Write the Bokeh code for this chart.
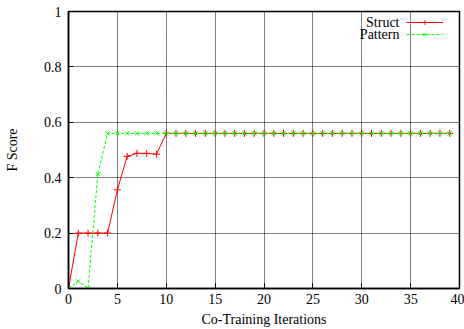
from bokeh.plotting import figure
from bokeh.models import Legend, LegendItem, Label, FixedTicker, Range1d
from bokeh.core.properties import value
from bokeh.embed import file_html
from bokeh.resources import INLINE

iterations = [0, 1, 2, 3, 4, 5, 6, 7, 8, 9, 10, 11, 12, 13, 14, 15, 16, 17, 18, 19,
              20, 21, 22, 23, 24, 25, 26, 27, 28, 29, 30, 31, 32, 33, 34, 35, 36, 37, 38, 39]
struct = [0.0, 0.2, 0.2, 0.2, 0.2, 0.356, 0.477, 0.488, 0.488, 0.485,
          0.56, 0.56, 0.56, 0.56, 0.56, 0.56, 0.56, 0.56, 0.56, 0.56,
          0.56, 0.56, 0.56, 0.56, 0.56, 0.56, 0.56, 0.56, 0.56, 0.56,
          0.56, 0.56, 0.56, 0.56, 0.56, 0.56, 0.56, 0.56, 0.56, 0.56]
pattern = [0.0, 0.026, 0.0, 0.413, 0.56, 0.56, 0.56, 0.56, 0.56, 0.56,
           0.56, 0.56, 0.56, 0.56, 0.56, 0.56, 0.56, 0.56, 0.56, 0.56,
           0.56, 0.56, 0.56, 0.56, 0.56, 0.56, 0.56, 0.56, 0.56, 0.56,
           0.56, 0.56, 0.56, 0.56, 0.56, 0.56, 0.56, 0.56, 0.56, 0.56]
x_ticks = [0, 5, 10, 15, 20, 25, 30, 35, 40]
y_ticks = [0, 0.2, 0.4, 0.6, 0.8, 1]
y_tick_labels = ["0", "0.2", "0.4", "0.6", "0.8", "1"]
series_names = ["Struct", "Pattern"]

FONT = "'Liberation Serif', 'Times New Roman', serif"
FS = "14px"

p = figure(width=464, height=329, output_backend="svg", toolbar_location=None,
           x_range=Range1d(0, 40), y_range=Range1d(0, 1),
           min_border_left=68, min_border_right=5, min_border_top=11, min_border_bottom=41)
p.background_fill_color = "white"
p.border_fill_color = "white"
p.outline_line_color = "black"
p.outline_line_width = 1.5

for ax in (p.xaxis, p.yaxis):
    ax.major_label_text_font = FONT
    ax.major_label_text_font_size = FS
    ax.major_label_text_color = "black"
    ax.axis_label_text_font = FONT
    ax.axis_label_text_font_size = FS
    ax.axis_label_text_font_style = "normal"
    ax.axis_label_text_color = "black"
    ax.axis_line_color = "black"
    ax.axis_line_width = 1.5
    ax.major_tick_out = 0
    ax.major_tick_in = 5
    ax.major_tick_line_color = "black"
    ax.minor_tick_line_color = None

p.xaxis.ticker = FixedTicker(ticks=x_ticks)
p.yaxis.ticker = FixedTicker(ticks=y_ticks)
p.yaxis.major_label_overrides = {t: l for t, l in zip(y_ticks, y_tick_labels)}
p.xaxis.major_label_standoff = 5
p.yaxis.major_label_standoff = 7
p.xaxis.axis_label = "Co-Training Iterations"
p.yaxis.axis_label = "F Score"
p.xaxis.axis_label_standoff = 5
p.yaxis.axis_label_standoff = 21

p.grid.grid_line_color = "black"
p.grid.grid_line_dash = "1 1"
p.grid.grid_line_alpha = 1.0

r1 = p.line(iterations, struct, line_color="#ff0000", line_width=1)
m1 = p.scatter(iterations, struct, marker="cross", size=7, line_color="#ff0000", line_width=1)
r2 = p.line(iterations, pattern, line_color="#00ff00", line_width=1, line_dash="3 2")
m2 = p.scatter(iterations, pattern, marker="x", size=6, line_color="#00ff00", line_width=1)

legend = Legend(items=[LegendItem(label=value(" "), renderers=[r1, m1]),
                       LegendItem(label=value(" "), renderers=[r2, m2])],
                location=(338, 248), orientation="vertical",
                background_fill_alpha=0, border_line_alpha=0,
                padding=0, margin=0, spacing=0,
                glyph_width=37, glyph_height=12, label_width=0, label_height=12,
                label_standoff=0, label_text_font_size="1px")
p.add_layout(legend)

for i, name in enumerate(series_names):
    p.add_layout(Label(x=331, y=266 - 12 * i, x_units="screen", y_units="screen",
                       text=name, text_align="right", text_baseline="middle",
                       text_font=FONT, text_font_size=FS, text_color="black"))

open("out.html", "w").write(file_html(p, INLINE))
